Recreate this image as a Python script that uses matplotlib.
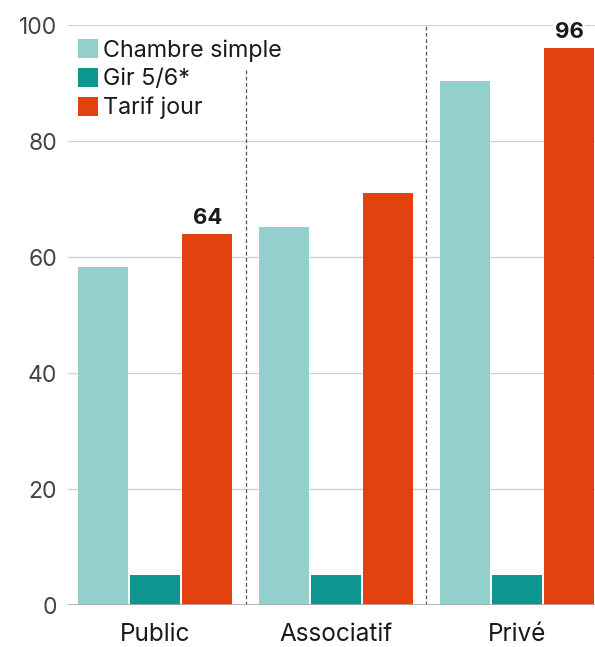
import matplotlib
matplotlib.use("Agg")
import matplotlib.pyplot as plt
import numpy as np

categories = ["Public", "Associatif", "Privé"]
series_names = ["Chambre simple", "Gir 5/6*", "Tarif jour"]
chambre_simple = [58.3, 65.2, 90.4]
gir56 = [5.1, 5.1, 5.1]
tarif_jour = [64, 71, 96]
labelled = {0: "64", 2: "96"}  # labels on tarif jour bars
yticks = [0, 20, 40, 60, 80, 100]

colors = ["#93CFCC", "#0E9690", "#E3410F"]

plt.rcParams['font.family'] = ['Inter', 'DejaVu Sans']

fig = plt.figure(figsize=(5.95, 6.47), dpi=100)
ax = fig.add_axes([68/595, 1-605/647, (595-68)/595, (605-25)/647])

x = np.arange(len(categories))
w = 0.277
off = 0.288
series = [chambre_simple, gir56, tarif_jour]
for i, (vals, c, name) in enumerate(zip(series, colors, series_names)):
    ax.bar(x + (i-1)*off, vals, width=w, color=c, label=name, zorder=3)

for idx, txt in labelled.items():
    ax.text(x[idx] + off, tarif_jour[idx] + 1.0, txt, ha='center', va='bottom',
            fontsize=16, fontweight='bold', color='#1a1a1a', zorder=6,
            bbox=dict(facecolor='white', edgecolor='none', pad=1))

ax.set_xlim(-0.482, 2.432)
ax.set_ylim(0, 100)
ax.set_yticks(yticks)
ax.set_yticklabels([str(v) for v in yticks], fontsize=16.5, color='#444444')
ax.set_xticks(x)
ax.set_xticklabels(categories, fontsize=17.5, color='#1a1a1a')
ax.tick_params(axis='both', length=0)
ax.tick_params(axis='y', pad=8)
ax.tick_params(axis='x', pad=13)
ax.yaxis.grid(True, color='#d0d0d0', linewidth=0.9, zorder=0)
ax.set_axisbelow(True)
for s in ax.spines.values():
    s.set_visible(False)
ax.axhline(0, color='#aaaaaa', linewidth=1.2, zorder=4)

# group separators
ax.vlines(0.5, 0, 92.5, colors='#555555', linestyles=(0, (3, 2)), linewidth=0.9, zorder=2)
ax.vlines(1.5, 0, 100, colors='#555555', linestyles=(0, (3, 2)), linewidth=0.9, zorder=2)

leg = ax.legend(loc='upper left', bbox_to_anchor=(-0.008, 1.0), frameon=False,
                fontsize=16.8, handlelength=0.85, handleheight=0.85, handletextpad=0.25,
                labelspacing=0.28, borderaxespad=0.2)
for t in leg.get_texts():
    t.set_color('#1a1a1a')

fig.savefig("out.png", dpi=100, facecolor='white')
